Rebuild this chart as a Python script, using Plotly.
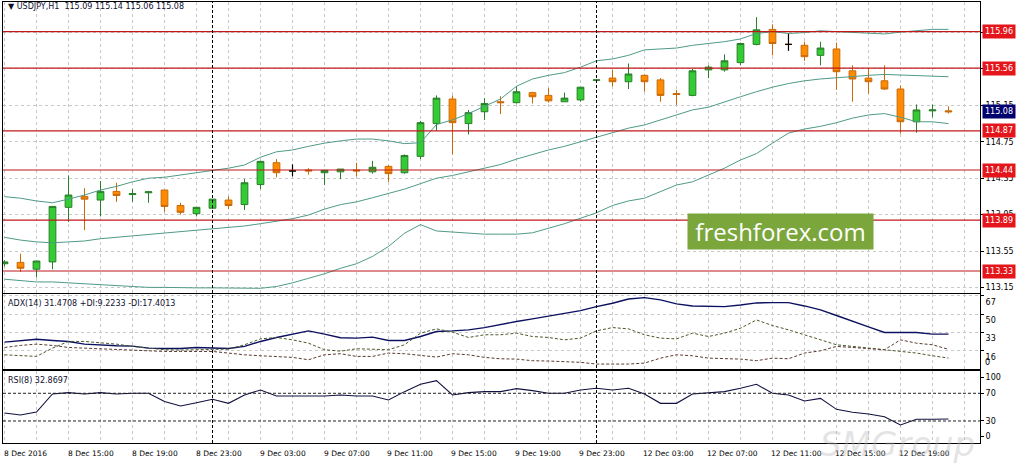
import plotly.graph_objects as go

# USDJPY H1, one bar per hour: 8 Dec 11:00 .. 12 Dec 22:00
bars = list(range(60))

opens = [113.41, 113.425, 113.35, 113.43, 114.03, 114.15, 114.11, 114.205, 114.17, 114.19,
         114.22, 114.05, 113.96, 114.02, 114.11, 114.06, 114.28, 114.52, 114.43, 114.44,
         114.41, 114.42, 114.44, 114.42, 114.48, 114.41, 114.59, 114.95, 115.22, 114.95,
         115.08, 115.19, 115.18, 115.29, 115.26, 115.19, 115.21, 115.425, 115.45, 115.41,
         115.48, 115.43, 115.28, 115.26, 115.54, 115.54, 115.62, 115.82, 115.985, 115.82,
         115.81, 115.70, 115.77, 115.53, 115.45, 115.42, 115.33, 114.97, 115.09, 115.09]
highs = [113.45, 113.52, 113.44, 114.04, 114.38, 114.24, 114.32, 114.30, 114.23, 114.21,
         114.22, 114.08, 114.03, 114.12, 114.15, 114.34, 114.54, 114.56, 114.50, 114.46,
         114.44, 114.45, 114.52, 114.54, 114.49, 114.61, 114.98, 115.26, 115.26, 115.10,
         115.23, 115.25, 115.36, 115.30, 115.34, 115.29, 115.35, 115.44, 115.54, 115.61,
         115.49, 115.45, 115.32, 115.55, 115.59, 115.71, 115.84, 116.12, 116.04, 115.94,
         115.85, 115.85, 115.84, 115.59, 115.56, 115.59, 115.37, 115.16, 115.16, 115.14]
lows = [113.38, 113.32, 113.26, 113.35, 113.87, 113.78, 113.93, 114.09, 114.09, 114.08,
        113.98, 113.95, 113.93, 114.01, 114.01, 114.00, 114.23, 114.36, 114.37, 114.39,
        114.275, 114.34, 114.37, 114.40, 114.31, 114.40, 114.56, 114.87, 114.61, 114.83,
        114.99, 115.055, 115.17, 115.17, 115.18, 115.19, 115.19, 115.42, 115.36, 115.33,
        115.30, 115.19, 115.155, 115.25, 115.45, 115.52, 115.59, 115.81, 115.70, 115.75,
        115.64, 115.59, 115.32, 115.19, 115.28, 115.32, 114.84, 114.85, 115.02, 115.06]
closes = [113.43, 113.36, 113.44, 114.04, 114.165, 114.12, 114.205, 114.16, 114.18, 114.20,
          114.04, 113.975, 114.03, 114.12, 114.05, 114.30, 114.535, 114.41, 114.43, 114.43,
          114.436, 114.45, 114.43, 114.47, 114.40, 114.60, 114.96, 115.23, 114.96, 115.07,
          115.17, 115.18, 115.30, 115.245, 115.20, 115.23, 115.35, 115.43, 115.41, 115.495,
          115.41, 115.26, 115.27, 115.53, 115.57, 115.64, 115.83, 115.98, 115.83, 115.82,
          115.685, 115.78, 115.52, 115.44, 115.41, 115.33, 114.97, 115.10, 115.10, 115.08]

bb_upper = [114.147, 114.13, 114.10, 114.08, 114.12, 114.165, 114.22, 114.26, 114.31, 114.35,
            114.36, 114.385, 114.41, 114.43, 114.46, 114.495, 114.58, 114.64, 114.66, 114.70,
            114.735, 114.76, 114.78, 114.78, 114.76, 114.73, 114.74, 114.94, 114.99, 115.06,
            115.14, 115.22, 115.36, 115.44, 115.48, 115.51, 115.57, 115.64, 115.66, 115.70,
            115.76, 115.77, 115.78, 115.81, 115.83, 115.85, 115.88, 115.94, 115.96, 115.94,
            115.95, 115.97, 115.96, 115.95, 115.94, 115.935, 115.955, 115.97, 115.985, 115.985]
bb_middle = [113.70, 113.67, 113.65, 113.64, 113.65, 113.66, 113.685, 113.70, 113.715, 113.73,
             113.745, 113.76, 113.78, 113.79, 113.81, 113.825, 113.85, 113.88, 113.905, 113.945,
             114.01, 114.06, 114.09, 114.135, 114.18, 114.23, 114.29, 114.35, 114.38, 114.42,
             114.455, 114.50, 114.56, 114.61, 114.66, 114.70, 114.75, 114.80, 114.85, 114.90,
             114.935, 114.99, 115.045, 115.10, 115.13, 115.19, 115.245, 115.30, 115.35, 115.39,
             115.42, 115.44, 115.455, 115.47, 115.48, 115.49, 115.485, 115.475, 115.47, 115.465]
bb_lower = [113.24, 113.225, 113.21, 113.21, 113.20, 113.19, 113.18, 113.165, 113.155, 113.15,
            113.15, 113.145, 113.145, 113.145, 113.145, 113.145, 113.14, 113.16, 113.20, 113.25,
            113.30, 113.36, 113.41, 113.49, 113.60, 113.745, 113.84, 113.77, 113.76, 113.75,
            113.735, 113.735, 113.735, 113.75, 113.80, 113.85, 113.91, 113.97, 114.05, 114.10,
            114.13, 114.20, 114.275, 114.31, 114.385, 114.46, 114.55, 114.62, 114.735, 114.845,
            114.89, 114.92, 114.96, 115.01, 115.045, 115.06, 115.02, 114.97, 114.97, 114.95]

adx = [24.1, 25.3, 26.8, 25.6, 24.7, 22.2, 21.3, 20.7, 20.4, 18.5,
       18.2, 18.2, 19.1, 18.5, 18.2, 20.1, 24.7, 28.4, 31.5, 34.5,
       31.5, 28.1, 27.8, 28.7, 25.6, 25.6, 29.3, 33.9, 34.5, 35.5,
       37.6, 40.7, 43.2, 45.7, 48.1, 50.6, 53.4, 57.1, 60.2, 64.2,
       65.4, 63.3, 59.6, 57.7, 57.1, 57.1, 58.6, 60.5, 60.8, 60.8,
       57.7, 54.0, 48.8, 43.2, 38.3, 33.0, 33.0, 33.0, 31.5, 31.47]
plus_di = [12.3, 11.4, 10.8, 18.5, 24.7, 24.7, 23.8, 22.2, 20.1, 18.5,
           17.0, 16.7, 16.7, 17.3, 17.6, 21.6, 27.1, 28.4, 26.2, 23.1,
           17.0, 15.7, 17.9, 17.6, 17.0, 21.6, 32.4, 36.4, 33.3, 28.4,
           30.9, 30.9, 32.4, 29.3, 28.4, 26.2, 27.8, 34.5, 37.6, 36.4,
           30.9, 27.8, 27.1, 32.4, 29.3, 32.4, 37.0, 44.7, 39.5, 35.5,
           30.9, 26.2, 21.6, 20.1, 18.5, 17.0, 15.4, 13.9, 11.4, 9.22]
minus_di = [19.1, 21.0, 22.2, 21.0, 19.1, 18.5, 17.9, 17.3, 16.4, 15.7,
            15.4, 15.4, 15.4, 15.4, 13.9, 12.3, 11.4, 10.8, 9.9, 7.7,
            12.3, 13.3, 10.8, 10.8, 13.9, 13.3, 11.4, 10.2, 13.3, 12.3,
            9.9, 8.6, 8.3, 6.8, 6.5, 6.2, 5.3, 3.7, 3.7, 3.7,
            4.6, 9.2, 12.3, 11.4, 9.2, 8.6, 8.3, 6.8, 9.2, 8.6,
            13.9, 16.0, 20.1, 19.1, 17.9, 17.0, 26.2, 23.1, 21.6, 17.4]

rsi = [41.5, 38.6, 42.9, 69.0, 71.0, 69.0, 71.0, 69.0, 70.0, 70.0,
       58.0, 51.7, 56.4, 61.3, 55.5, 67.6, 74.8, 66.1, 66.1, 66.1,
       66.1, 67.6, 66.1, 66.1, 60.3, 72.4, 83.0, 88.3, 67.6, 71.0,
       72.4, 72.4, 76.7, 73.8, 70.0, 70.0, 74.8, 77.2, 74.8, 77.2,
       69.0, 55.5, 55.5, 69.0, 71.0, 72.4, 77.2, 83.0, 70.0, 67.6,
       58.9, 62.7, 46.8, 42.5, 40.1, 36.2, 24.2, 32.4, 32.4, 32.87]

levels = [115.96, 115.56, 114.87, 114.44, 113.89, 113.33]
last_price = 115.08
separator_bars = [13, 37]

time_label_bars = [0, 4, 8, 12, 16, 20, 24, 28, 32, 36, 40, 44, 48, 52, 56]
time_labels = ["8 Dec 2016", "8 Dec 15:00", "8 Dec 19:00", "8 Dec 23:00", "9 Dec 03:00",
               "9 Dec 07:00", "9 Dec 11:00", "9 Dec 15:00", "9 Dec 19:00", "9 Dec 23:00",
               "12 Dec 03:00", "12 Dec 07:00", "12 Dec 11:00", "12 Dec 15:00", "12 Dec 19:00"]

price_ticks = [113.15, 113.55, 113.95, 114.35, 114.75, 115.15, 115.55, 115.95]
adx_ticks = [67, 50, 33, 16]
rsi_levels = [70, 30]

W, H = 1023, 463
FONT = "DejaVu Sans"
GRID = "#c8c8c8"
BAND = "#4f9a88"


def py(px):
    # pixel row -> paper fraction
    return 1 - px / H


x_dom = [3 / W, 980 / W]
main_dom = [py(292.5), py(2)]
adx_dom = [py(369), py(294)]
rsi_dom = [py(443), py(371)]

fig = go.Figure()

fig.add_trace(go.Candlestick(
    x=bars, open=opens, high=highs, low=lows, close=closes,
    increasing={"line": {"color": "#2a7d2a", "width": 1}, "fillcolor": "#33cc33"},
    decreasing={"line": {"color": "#c8690a", "width": 1}, "fillcolor": "#ff8c00"},
    whiskerwidth=0, showlegend=False, hoverinfo="skip",
))
doji = [i for i in bars if opens[i] == closes[i]]
fig.add_trace(go.Candlestick(
    x=doji,
    open=[opens[i] for i in doji], high=[highs[i] for i in doji],
    low=[lows[i] for i in doji], close=[closes[i] for i in doji],
    increasing={"line": {"color": "#000000", "width": 1.2}, "fillcolor": "#000000"},
    decreasing={"line": {"color": "#000000", "width": 1.2}, "fillcolor": "#000000"},
    whiskerwidth=0, showlegend=False, hoverinfo="skip",
))
for band in (bb_upper, bb_middle, bb_lower):
    fig.add_trace(go.Scatter(x=bars, y=band, mode="lines", line={"color": BAND, "width": 1},
                             showlegend=False, hoverinfo="skip"))

fig.add_trace(go.Scatter(x=bars, y=adx, mode="lines", line={"color": "#0c1060", "width": 1.4},
                         xaxis="x2", yaxis="y2", showlegend=False, hoverinfo="skip"))
fig.add_trace(go.Scatter(x=bars, y=plus_di, mode="lines",
                         line={"color": "#4a5a2a", "width": 1, "dash": "3px,2px"},
                         xaxis="x2", yaxis="y2", showlegend=False, hoverinfo="skip"))
fig.add_trace(go.Scatter(x=bars, y=minus_di, mode="lines",
                         line={"color": "#5a3a30", "width": 1, "dash": "3px,2px"},
                         xaxis="x2", yaxis="y2", showlegend=False, hoverinfo="skip"))

fig.add_trace(go.Scatter(x=bars, y=rsi, mode="lines", line={"color": "#101040", "width": 1.1},
                         xaxis="x3", yaxis="y3", showlegend=False, hoverinfo="skip"))

x_common = dict(
    domain=x_dom, range=[-0.094, 60.97], showticklabels=False, ticks="",
    tick0=0, dtick=2, showgrid=True, gridcolor=GRID, griddash="3px,3px", gridwidth=1,
    zeroline=False, showline=True, linecolor="#000000", linewidth=1, mirror=True,
    rangeslider={"visible": False}, fixedrange=True,
)
y_common = dict(
    side="right", ticks="outside", ticklen=3, tickcolor="#000000",
    tickfont={"family": FONT, "size": 8, "color": "#000000"},
    showgrid=True, gridcolor=GRID, griddash="3px,3px", gridwidth=1, zeroline=False,
    showline=True, linecolor="#000000", linewidth=1, mirror=True, fixedrange=True,
)

fig.update_layout(
    width=W, height=H, margin={"l": 0, "r": 0, "t": 0, "b": 0},
    paper_bgcolor="#ffffff", plot_bgcolor="#ffffff", boxgap=0.4,
    font={"family": FONT, "size": 8, "color": "#000000"},
    xaxis=dict(x_common, anchor="y"),
    xaxis2=dict(x_common, anchor="y2", matches="x"),
    xaxis3=dict(x_common, anchor="y3", matches="x"),
    yaxis=dict(y_common, domain=main_dom, range=[113.094, 116.286], anchor="x",
               tickvals=price_ticks, ticktext=["%.2f" % v for v in price_ticks]),
    yaxis2=dict(y_common, domain=adx_dom, range=[-0.9, 68.8], anchor="x2",
                tickvals=adx_ticks, ticktext=[str(v) for v in adx_ticks], ticklabelshift=6),
    yaxis3=dict(y_common, domain=rsi_dom, range=[-1.8, 102.2], anchor="x3",
                tickvals=[93.1, 70, 30, 8.3], ticktext=["100", "70", "30", "0"], showgrid=False),
)

shapes = []
for lv in levels:
    shapes.append(dict(type="line", xref="paper", yref="y", x0=x_dom[0], x1=x_dom[1],
                       y0=lv, y1=lv, line={"color": "#c0191c", "width": 1.2}))
for lv in rsi_levels:
    shapes.append(dict(type="line", xref="paper", yref="y3", x0=x_dom[0], x1=x_dom[1],
                       y0=lv, y1=lv, line={"color": "#222222", "width": 1, "dash": "3px,2px"}))
for b in separator_bars:
    shapes.append(dict(type="line", xref="x", yref="paper", x0=b, x1=b,
                       y0=rsi_dom[0], y1=main_dom[1],
                       line={"color": "#000000", "width": 1, "dash": "3px,2px"}))
fig.update_layout(shapes=shapes)

annotations = []
for lv in levels:
    annotations.append(dict(xref="paper", yref="y", x=982 / W, y=lv, xanchor="left",
                            yanchor="middle", text="%.2f" % lv, showarrow=False,
                            bgcolor="#e4161b", borderpad=2,
                            font={"family": FONT, "size": 8, "color": "#ffffff"}))
annotations.append(dict(xref="paper", yref="y", x=982 / W, y=last_price, xanchor="left",
                        yanchor="middle", text="%.2f" % last_price, showarrow=False,
                        bgcolor="#00006e", borderpad=2,
                        font={"family": FONT, "size": 8, "color": "#ffffff"}))
for b, label in zip(time_label_bars, time_labels):
    annotations.append(dict(xref="x", yref="paper", x=b, y=py(453), xanchor="left",
                            yanchor="middle", text=label, showarrow=False, xshift=-3,
                            font={"family": FONT, "size": 7.5, "color": "#000000"}))
annotations.append(dict(xref="paper", yref="paper", x=983 / W, y=py(362), xanchor="left",
                        yanchor="middle", text="0", showarrow=False,
                        font={"family": FONT, "size": 8, "color": "#000000"}))
annotations.append(dict(xref="paper", yref="paper", x=6 / W, y=py(7), xanchor="left",
                        yanchor="middle", showarrow=False,
                        text="\u25bc USDJPY,H1  115.09 115.14 115.06 115.08",
                        font={"family": FONT, "size": 8, "color": "#101030"}))
annotations.append(dict(xref="paper", yref="paper", x=6 / W, y=py(303), xanchor="left",
                        yanchor="middle", showarrow=False,
                        text="ADX(14) 31.4708 +DI:9.2233 -DI:17.4013",
                        font={"family": FONT, "size": 8, "color": "#101030"}))
annotations.append(dict(xref="paper", yref="paper", x=6 / W, y=py(380), xanchor="left",
                        yanchor="middle", showarrow=False, text="RSI(8) 32.8697",
                        font={"family": FONT, "size": 8, "color": "#101030"}))
annotations.append(dict(xref="paper", yref="paper", x=780 / W, y=py(231.5), xanchor="center",
                        yanchor="middle", showarrow=False, text="freshforex.com",
                        bgcolor="#7ba63c", borderpad=0, width=185, height=35, align="center",
                        font={"family": "Open Sans", "size": 24, "color": "#ffffff"}))
annotations.append(dict(xref="paper", yref="paper", x=897 / W, y=py(444), xanchor="center",
                        yanchor="middle", showarrow=False, text="SMGroup",
                        font={"family": "DejaVu Sans", "size": 34, "color": "rgba(185,185,185,0.4)",
                              "style": "italic"}))
fig.update_layout(annotations=annotations)

fig.write_html(
    "out.html",
    config={"displayModeBar": False},
    post_script="document.body.style.margin='0';document.body.style.overflow='hidden';",
)
